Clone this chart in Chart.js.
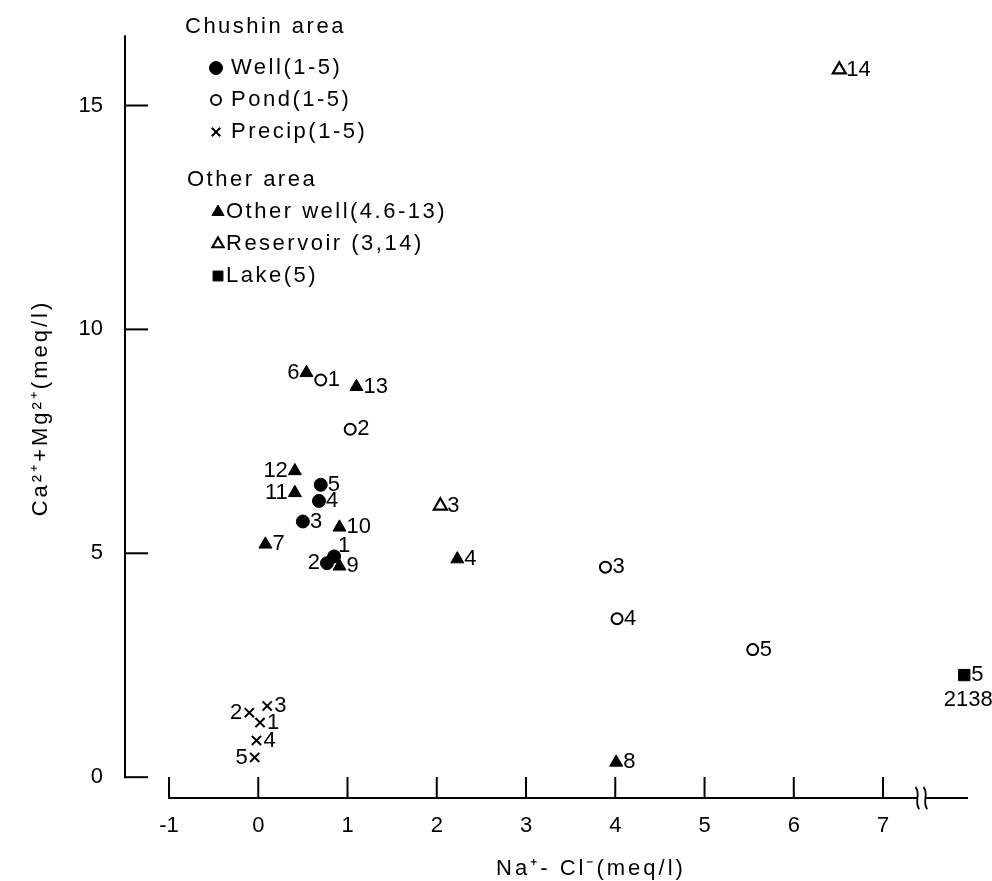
<!DOCTYPE html>
<html>
<head>
<meta charset="utf-8">
<script src="https://cdn.jsdelivr.net/npm/chart.js@4.4.1/dist/chart.umd.min.js"></script>
<style>
  html, body { margin: 0; padding: 0; background: #fff; }
  #wrap { width: 992px; height: 881px; }
</style>
</head>
<body>
<div id="wrap"><canvas id="chart" width="992" height="881"></canvas></div>
<script>
// tick values
const xTicks = [-1, 0, 1, 2, 3, 4, 5, 6, 7];
const yTicks = [0, 5, 10, 15];

// Chushin area
const wellIds = ['1', '2', '3', '4', '5'];
const wellX = [0.85, 0.77, 0.50, 0.68, 0.70];
const wellY = [4.93, 4.78, 5.71, 6.17, 6.53];

const pondIds = ['1', '2', '3', '4', '5'];
const pondX = [0.70, 1.03, 3.89, 4.02, 5.54];
const pondY = [8.87, 7.77, 4.69, 3.54, 2.85];

const precipIds = ['1', '2', '3', '4', '5'];
const precipX = [0.02, -0.10, 0.10, -0.02, -0.04];
const precipY = [1.22, 1.44, 1.59, 0.82, 0.44];

// Other area
const otherWellIds = ['4', '6', '7', '8', '9', '10', '11', '12', '13'];
const otherWellX = [2.23, 0.54, 0.08, 4.01, 0.91, 0.91, 0.41, 0.41, 1.10];
const otherWellY = [4.87, 9.03, 5.20, 0.33, 4.71, 5.58, 6.35, 6.84, 8.72];

const reservoirIds = ['3', '14'];
const reservoirX = [2.04, 6.51];
const reservoirY = [6.06, 15.8];

// lake sits past the axis break, its real x value is printed under it
const lakeIds = ['5'];
const lakeX = [7.91];
const lakeY = [2.28];
const lakeTrueX = ['2138'];

const FONT = "'Liberation Sans', Arial, sans-serif";

// where each point's number goes (r = right, l = left, ur = up right)
const wellSides = ['ur', 'l', 'r', 'r', 'r'];
const pondSides = ['r', 'r', 'r', 'r', 'r'];
const precipSides = ['r', 'l', 'r', 'r', 'l'];
const otherWellSides = ['r', 'l', 'r', 'r', 'r', 'r', 'l', 'l', 'r'];
const reservoirSides = ['r', 'r'];
const lakeSides = ['r'];

function pts(xs, ys) {
  return xs.map((x, i) => ({x: x, y: ys[i]}));
}

const series = [
  {name: 'Well(1-5)', ids: wellIds, sides: wellSides, data: pts(wellX, wellY),
   pointStyle: 'circle', radius: 6.5, bg: '#000', bw: 1, legendR: 6.5},
  {name: 'Pond(1-5)', ids: pondIds, sides: pondSides, data: pts(pondX, pondY),
   pointStyle: 'circle', radius: 5.5, bg: '#fff', bw: 2, legendR: 5},
  {name: 'Precip(1-5)', ids: precipIds, sides: precipSides, data: pts(precipX, precipY),
   pointStyle: 'crossRot', radius: 6.5, bg: '#000', bw: 2, legendR: 6},
  {name: 'Other well(4.6-13)', ids: otherWellIds, sides: otherWellSides, data: pts(otherWellX, otherWellY),
   pointStyle: 'triangle', radius: 7.5, bg: '#000', bw: 1, legendR: 7},
  {name: 'Reservoir (3,14)', ids: reservoirIds, sides: reservoirSides, data: pts(reservoirX, reservoirY),
   pointStyle: 'triangle', radius: 7.5, bg: '#fff', bw: 2.2, legendR: 6.5},
  {name: 'Lake(5)', ids: lakeIds, sides: lakeSides, data: pts(lakeX, lakeY),
   pointStyle: 'rect', radius: 8, bg: '#000', bw: 1, legendR: 7}
];

const legendGroups = [
  {title: 'Chushin area', x: 185, y: 27, items: [0, 1, 2]},
  {title: 'Other area', x: 187, y: 180, items: [3, 4, 5]}
];

const decor = {
  id: 'decor',
  afterDatasetsDraw(chart) {
    const ctx = chart.ctx;
    const xs = chart.scales.x, ys = chart.scales.y;
    const area = chart.chartArea;
    ctx.save();
    ctx.strokeStyle = '#000';
    ctx.fillStyle = '#000';
    ctx.lineWidth = 2;
    ctx.lineCap = 'butt';

    // y axis with inward ticks
    const y0 = ys.getPixelForValue(0);
    ctx.beginPath();
    ctx.moveTo(area.left, area.top);
    ctx.lineTo(area.left, y0 + 1);
    ctx.stroke();
    yTicks.forEach(v => {
      const py = ys.getPixelForValue(v);
      ctx.beginPath();
      ctx.moveTo(area.left, py);
      ctx.lineTo(area.left + 23, py);
      ctx.stroke();
    });

    // x axis, offset below the zero line, with a break before the lake point
    const xb = area.bottom;
    const xStart = xs.getPixelForValue(xTicks[0]);
    const breakX = xs.getPixelForValue(7.43);
    ctx.beginPath();
    ctx.moveTo(xStart - 1, xb);
    ctx.lineTo(area.right, xb);
    ctx.stroke();
    xTicks.forEach(v => {
      const px = xs.getPixelForValue(v);
      ctx.beginPath();
      ctx.moveTo(px, xb);
      ctx.lineTo(px, xb - 21);
      ctx.stroke();
    });
    ctx.fillStyle = '#fff';
    ctx.fillRect(breakX - 4, xb - 3, 8, 6);
    ctx.fillStyle = '#000';
    ctx.lineWidth = 1.8;
    [-4, 4].forEach(d => {
      const bx = breakX + d;
      ctx.beginPath();
      ctx.moveTo(bx - 2, xb - 11);
      ctx.bezierCurveTo(bx + 4, xb - 5, bx - 4, xb + 5, bx + 2, xb + 11);
      ctx.stroke();
    });

    // point numbers
    ctx.font = '22px ' + FONT;
    ctx.textBaseline = 'middle';
    series.forEach((s, di) => {
      const meta = chart.getDatasetMeta(di);
      meta.data.forEach((el, i) => {
        const side = s.sides[i];
        if (side === 'l') {
          ctx.textAlign = 'right';
          ctx.fillText(s.ids[i], el.x - 7, el.y);
        } else if (side === 'ur') {
          ctx.textAlign = 'left';
          ctx.fillText(s.ids[i], el.x + 4, el.y - 10);
        } else {
          ctx.textAlign = 'left';
          ctx.fillText(s.ids[i], el.x + 7, el.y);
        }
      });
    });
    const lakeMeta = chart.getDatasetMeta(5);
    lakeMeta.data.forEach((el, i) => {
      ctx.textAlign = 'center';
      ctx.fillText(lakeTrueX[i], el.x + 4, el.y + 25);
    });

    // legend
    ctx.letterSpacing = '2.5px';
    ctx.textAlign = 'left';
    legendGroups.forEach(g => {
      ctx.fillText(g.title, g.x, g.y);
      g.items.forEach((si, k) => {
        const s = series[si];
        const my = g.y + 41 + k * 32 - (si >= 3 ? 9 : 0);
        const mx = g.x + 31;
        ctx.save();
        ctx.fillStyle = s.bg;
        ctx.strokeStyle = '#000';
        ctx.lineWidth = s.bw;
        Chart.helpers.drawPoint(ctx, {pointStyle: s.pointStyle, radius: s.legendR, borderWidth: s.bw}, mx, my);
        ctx.restore();
        ctx.fillText(s.name, mx + (si >= 3 ? 8 : 15), my);
      });
    });

    // axis titles
    ctx.textAlign = 'center';
    ctx.letterSpacing = '3px';
    ctx.fillText('Na\u207A- Cl\u207B(meq/l)', 591, 869);
    ctx.translate(41, 408);
    ctx.rotate(-Math.PI / 2);
    ctx.fillText('Ca\u00B2\u207A+Mg\u00B2\u207A(meq/l)', 0, 0);
    ctx.restore();
  }
};

new Chart(document.getElementById('chart').getContext('2d'), {
  type: 'scatter',
  data: {
    datasets: series.map(s => ({
      label: s.name,
      data: s.data,
      pointStyle: s.pointStyle,
      pointRadius: s.radius,
      pointHoverRadius: s.radius,
      pointBackgroundColor: s.bg,
      pointBorderColor: '#000',
      pointBorderWidth: s.bw,
      showLine: false,
      clip: false
    }))
  },
  options: {
    responsive: false,
    animation: false,
    events: [],
    layout: { padding: { top: 28, right: 24, left: 0, bottom: 0 } },
    plugins: {
      legend: { display: false },
      tooltip: { enabled: false }
    },
    scales: {
      x: {
        type: 'linear',
        min: -1.493,
        max: 7.952,
        grid: { display: false, drawTicks: false },
        border: { display: false },
        afterBuildTicks: axis => { axis.ticks = xTicks.map(v => ({value: v})); },
        afterFit: axis => { axis.height = 83; },
        ticks: {
          color: '#000',
          padding: 15,
          maxRotation: 0,
          font: { family: FONT, size: 22 },
          callback: v => String(v)
        }
      },
      y: {
        type: 'linear',
        min: -0.465,
        max: 16.57,
        grid: { display: false, drawTicks: false },
        border: { display: false },
        afterBuildTicks: axis => { axis.ticks = yTicks.map(v => ({value: v})); },
        afterFit: axis => { axis.width = 125; },
        ticks: {
          color: '#000',
          padding: 22,
          font: { family: FONT, size: 22 },
          callback: v => String(v)
        }
      }
    }
  },
  plugins: [decor]
});
</script>
</body>
</html>
